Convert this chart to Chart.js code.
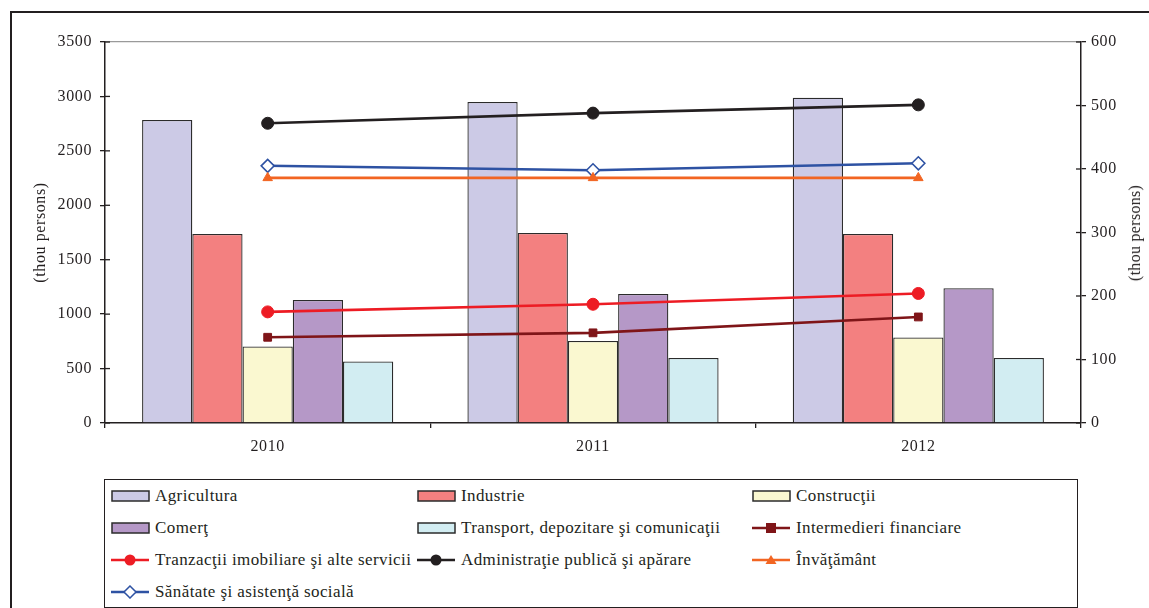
<!DOCTYPE html>
<html>
<head>
<meta charset="utf-8">
<script src="https://cdn.jsdelivr.net/npm/chart.js"></script>
<style>
  body { margin: 0; width: 1149px; height: 608px; overflow: hidden; background: #fff; position: relative; font-family: "Liberation Serif", Tinos, "Times New Roman", serif; }
  #frame { position: absolute; left: 10px; top: 11px; width: 1200px; height: 700px; border: 2px solid #231f20; }
  #chart { position: absolute; left: 0; top: 0; }
  #legend { position: absolute; left: 104px; top: 479px; width: 972px; height: 127px; border: 1.5px solid #231f20; }
  .item { position: absolute; height: 20px; display: flex; align-items: center; font-size: 17px; color: #231f20; letter-spacing: 0.4px; white-space: nowrap; }
  .item svg { margin-right: 4px; }
  #rtitle { position: absolute; left: 1135px; top: 233px; transform: translate(-50%, -50%) rotate(-90deg); font-size: 16px; letter-spacing: 0.3px; color: #231f20; white-space: nowrap; }
</style>
</head>
<body>
<div id="frame"></div>
<canvas id="chart" width="1149" height="470"></canvas>
<div id="rtitle">(thou persons)</div>
<div id="legend"></div>
<script>
// categories
var years = ["2010", "2011", "2012"];

// bars (left axis, thou persons)
var agricultura = [2783, 2949, 2988];
var industrie = [1736, 1745, 1736];
var constructii = [703, 753, 785];
var comert = [1130, 1185, 1238];
var transport = [565, 597, 597];

// lines (right axis, thou persons)
var intermedieri = [135, 142, 167];
var tranzactii = [175, 187, 204];
var administratie = [472, 488, 501];
var invatamant = [386, 386, 386];
var sanatate = [405, 398, 409];

var barNames = ["Agricultura", "Industrie", "Construcţii", "Comerţ", "Transport, depozitare şi comunicaţii"];
var barColors = ["#cccae6", "#f38080", "#faf8d0", "#b598c7", "#d2edf2"];
var barValues = [agricultura, industrie, constructii, comert, transport];

var lineNames = ["Intermedieri financiare", "Tranzacţii imobiliare şi alte servicii", "Administraţie publică şi apărare", "Învăţământ", "Sănătate şi asistenţă socială"];
var lineColors = ["#7f1518", "#ed1c24", "#231f20", "#f26522", "#2e52a3"];
var lineMarkers = ["rect", "circle", "circle", "triangle", "rectRot"];
var lineValues = [intermedieri, tranzactii, administratie, invatamant, sanatate];

var serif = '"Liberation Serif", Tinos, "Times New Roman", serif';

var datasets = [];
for (var i = 0; i < barNames.length; i++) {
  datasets.push({
    type: "bar",
    label: barNames[i],
    data: barValues[i],
    backgroundColor: barColors[i],
    borderColor: "#2b2b2b",
    borderWidth: 1.3,
    yAxisID: "y",
    order: 2,
    barPercentage: 1,
    categoryPercentage: 0.772
  });
}
for (var j = 0; j < lineNames.length; j++) {
  var open = lineMarkers[j] == "rectRot";
  datasets.push({
    type: "line",
    label: lineNames[j],
    data: lineValues[j],
    borderColor: lineColors[j],
    backgroundColor: open ? "#ffffff" : lineColors[j],
    pointBackgroundColor: open ? "#ffffff" : lineColors[j],
    pointBorderColor: lineColors[j],
    pointBorderWidth: open ? 1.6 : 1,
    pointStyle: lineMarkers[j],
    pointRadius: lineMarkers[j] == "circle" ? 6 : (open ? 6.5 : 5.5),
    borderWidth: 2.6,
    tension: 0,
    yAxisID: "y1",
    order: 1
  });
}

// a bit of letter spacing, the original's numbers are set loose
var spacing = {
  id: "spacing",
  beforeDraw: function (chart) { chart.ctx.letterSpacing = "0.6px"; }
};

// small tick marks pointing into the plot area
var innerTicks = {
  id: "innerTicks",
  afterDraw: function (chart) {
    var ctx = chart.ctx;
    var a = chart.chartArea;
    ctx.save();
    ctx.strokeStyle = "#231f20";
    ctx.lineWidth = 1.3;
    chart.scales.y.ticks.forEach(function (t) {
      var py = chart.scales.y.getPixelForValue(t.value);
      ctx.beginPath(); ctx.moveTo(a.left, py); ctx.lineTo(a.left + 5, py); ctx.stroke();
    });
    chart.scales.y1.ticks.forEach(function (t) {
      var py = chart.scales.y1.getPixelForValue(t.value);
      ctx.beginPath(); ctx.moveTo(a.right, py); ctx.lineTo(a.right - 5, py); ctx.stroke();
    });
    ctx.restore();
  }
};

var tickFont = { family: serif, size: 16 };

new Chart(document.getElementById("chart"), {
  data: { labels: years, datasets: datasets },
  options: {
    responsive: false,
    animation: false,
    layout: { padding: { top: 42, left: 0, right: 0, bottom: 0 } },
    plugins: { legend: { display: false }, tooltip: { enabled: false } },
    scales: {
      x: {
        offset: true,
        grid: { offset: true, drawOnChartArea: false, tickLength: 5, tickColor: "#231f20", lineWidth: 1.3 },
        border: { color: "#231f20", width: 1.5 },
        ticks: { color: "#231f20", font: tickFont, padding: 9 },
        afterFit: function (s) { s.height = 47; }
      },
      y: {
        position: "left",
        min: 0, max: 3500,
        ticks: { stepSize: 500, color: "#231f20", font: tickFont, padding: 8, callback: function (v) { return String(v); } },
        grid: {
          tickLength: 5, tickColor: "#231f20", lineWidth: 1.3,
          color: function (c) { return c.tick && c.tick.value == 3500 ? "#9a9a9a" : "rgba(0,0,0,0)"; }
        },
        border: { color: "#231f20", width: 1.5 },
        title: { display: true, text: "(thou persons)", color: "#231f20", font: tickFont, padding: { top: 31, bottom: 0 } },
        afterFit: function (s) { s.width = 105; }
      },
      y1: {
        position: "right",
        min: 0, max: 600,
        ticks: { stepSize: 100, color: "#231f20", font: tickFont, padding: 5, callback: function (v) { return String(v); } },
        grid: { drawOnChartArea: false, tickLength: 5, tickColor: "#231f20", lineWidth: 1.3 },
        border: { color: "#231f20", width: 1.5 },
        afterFit: function (s) { s.width = 68; }
      }
    }
  },
  plugins: [spacing, innerTicks]
});

// legend, three columns like the original
var legend = document.getElementById("legend");
var colX = [6, 312, 647];
var rowY = [6, 38, 70, 102];
datasets.forEach(function (d, k) {
  var el = document.createElement("div");
  el.className = "item";
  el.style.left = colX[k % 3] + "px";
  el.style.top = rowY[Math.floor(k / 3)] + "px";
  var svg;
  if (d.type == "bar") {
    svg = '<svg width="40" height="14"><rect x="1" y="2" width="37" height="10" fill="' + d.backgroundColor + '" stroke="#2b2b2b" stroke-width="1.5"/></svg>';
  } else {
    var c = d.borderColor, m = "";
    if (d.pointStyle == "circle") m = '<circle cx="19" cy="7" r="5.5" fill="' + c + '"/>';
    if (d.pointStyle == "rect") m = '<rect x="14" y="2" width="10" height="10" fill="' + c + '"/>';
    if (d.pointStyle == "triangle") m = '<polygon points="19,2 24.5,11 13.5,11" fill="' + c + '"/>';
    if (d.pointStyle == "rectRot") m = '<polygon points="19,1 25,7 19,13 13,7" fill="#fff" stroke="' + c + '" stroke-width="1.5"/>';
    svg = '<svg width="40" height="14"><line x1="0" y1="7" x2="38" y2="7" stroke="' + c + '" stroke-width="2.6"/>' + m + '</svg>';
  }
  el.innerHTML = svg + '<span>' + d.label + '</span>';
  legend.appendChild(el);
});
</script>
</body>
</html>
